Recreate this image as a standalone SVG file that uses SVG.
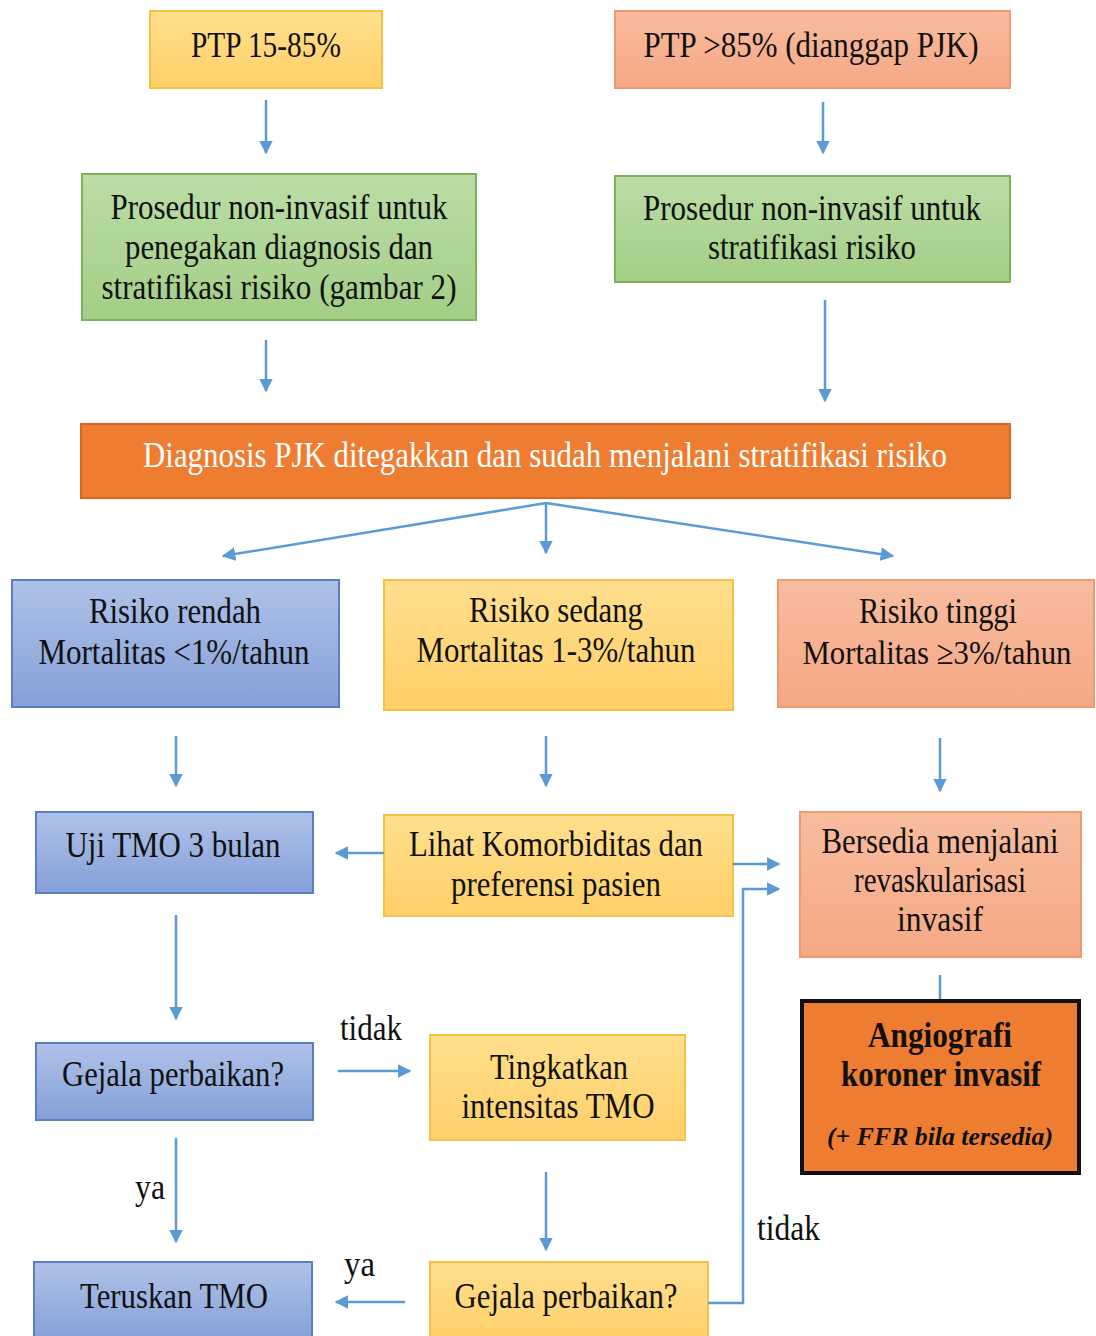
<svg xmlns="http://www.w3.org/2000/svg" width="1096" height="1336" viewBox="0 0 1096 1336">
<defs>
<linearGradient id="gBlue" x1="0" y1="0" x2="0" y2="1"><stop offset="0" stop-color="#AFC2E8"/><stop offset="1" stop-color="#859FD8"/></linearGradient>
<linearGradient id="gYel" x1="0" y1="0" x2="0" y2="1"><stop offset="0" stop-color="#FFDF8E"/><stop offset="1" stop-color="#FFD068"/></linearGradient>
<linearGradient id="gSal" x1="0" y1="0" x2="0" y2="1"><stop offset="0" stop-color="#F8BC9F"/><stop offset="1" stop-color="#F5A885"/></linearGradient>
<linearGradient id="gGrn" x1="0" y1="0" x2="0" y2="1"><stop offset="0" stop-color="#BCDDA6"/><stop offset="1" stop-color="#A2CE86"/></linearGradient>
<marker id="ah" viewBox="0 0 10 10" refX="9" refY="5" markerWidth="5.5" markerHeight="5.5" orient="auto" markerUnits="strokeWidth"><path d="M0,0 L10,5 L0,10 z" fill="#5B9BD5"/></marker>
</defs>
<style>
text{font-family:"Liberation Serif","Times New Roman",serif;font-size:35px;fill:#111111;text-anchor:middle}
.blue{fill:url(#gBlue);stroke:#5B7FC6;stroke-width:2}
.yel{fill:url(#gYel);stroke:#F5C043;stroke-width:2}
.sal{fill:url(#gSal);stroke:#EE9A70;stroke-width:2}
.grn{fill:url(#gGrn);stroke:#7DB257;stroke-width:2}
.org{fill:#EE7D32;stroke:#D8661E;stroke-width:2}
.conn{stroke:#5B9BD5;stroke-width:2.5;fill:none}
.arr{marker-end:url(#ah)}
.lbl{text-anchor:start}
</style>
<rect width="1096" height="1336" fill="#ffffff"/>

<g id="n-ptp1"><rect class="yel" x="150" y="11" width="232" height="77"/><text x="266" y="57" textLength="150" lengthAdjust="spacingAndGlyphs">PTP 15-85%</text></g>
<g id="n-ptp2"><rect class="sal" x="615" y="11" width="395" height="77"/><text x="811" y="57" textLength="335" lengthAdjust="spacingAndGlyphs">PTP &gt;85% (dianggap PJK)</text></g>
<g id="n-pros1"><rect class="grn" x="82" y="174" width="394" height="146"/>
<text x="279" y="219" textLength="337" lengthAdjust="spacingAndGlyphs">Prosedur non-invasif untuk</text>
<text x="279" y="259" textLength="308" lengthAdjust="spacingAndGlyphs">penegakan diagnosis dan</text>
<text x="279" y="299" textLength="355" lengthAdjust="spacingAndGlyphs">stratifikasi risiko (gambar 2)</text></g>
<g id="n-pros2"><rect class="grn" x="615" y="176" width="395" height="106"/>
<text x="812" y="220" textLength="338" lengthAdjust="spacingAndGlyphs">Prosedur non-invasif untuk</text>
<text x="812" y="259" textLength="208" lengthAdjust="spacingAndGlyphs">stratifikasi risiko</text></g>
<g id="n-diag"><rect class="org" x="81" y="424" width="929" height="74"/>
<text x="545" y="467" textLength="804" lengthAdjust="spacingAndGlyphs" style="fill:#ffffff">Diagnosis PJK ditegakkan dan sudah menjalani stratifikasi risiko</text></g>

<g id="n-rendah"><rect class="blue" x="12" y="580" width="327" height="127"/>
<text x="175" y="623" textLength="172" lengthAdjust="spacingAndGlyphs">Risiko rendah</text>
<text x="174" y="664" textLength="271" lengthAdjust="spacingAndGlyphs">Mortalitas &lt;1%/tahun</text></g>
<g id="n-sedang"><rect class="yel" x="384" y="580" width="349" height="130"/>
<text x="556" y="622" textLength="174" lengthAdjust="spacingAndGlyphs">Risiko sedang</text>
<text x="556" y="662" textLength="279" lengthAdjust="spacingAndGlyphs">Mortalitas 1-3%/tahun</text></g>
<g id="n-tinggi"><rect class="sal" x="778" y="580" width="316" height="127"/>
<text x="938" y="623" textLength="158" lengthAdjust="spacingAndGlyphs">Risiko tinggi</text>
<text x="937" y="664" textLength="269" lengthAdjust="spacingAndGlyphs" style="font-size:34px">Mortalitas ≥3%/tahun</text></g>

<g id="n-uji"><rect class="blue" x="36" y="812" width="277" height="81"/>
<text x="173" y="857" textLength="215" lengthAdjust="spacingAndGlyphs">Uji TMO 3 bulan</text></g>
<g id="n-lihat"><rect class="yel" x="384" y="815" width="349" height="101"/>
<text x="556" y="856" textLength="294" lengthAdjust="spacingAndGlyphs">Lihat Komorbiditas dan</text>
<text x="556" y="896" textLength="210" lengthAdjust="spacingAndGlyphs">preferensi pasien</text></g>
<g id="n-bersedia"><rect class="sal" x="800" y="812" width="281" height="145"/>
<text x="940" y="853" textLength="237" lengthAdjust="spacingAndGlyphs">Bersedia menjalani</text>
<text x="940" y="892" textLength="172" lengthAdjust="spacingAndGlyphs">revaskularisasi</text>
<text x="940" y="931" textLength="86" lengthAdjust="spacingAndGlyphs">invasif</text></g>
<g id="n-angio"><rect x="802" y="1001" width="277" height="172" fill="#EE7D32" stroke="#111111" stroke-width="4"/>
<text x="940" y="1047" textLength="144" lengthAdjust="spacingAndGlyphs" font-weight="bold">Angiografi</text>
<text x="941" y="1086" textLength="200" lengthAdjust="spacingAndGlyphs" font-weight="bold">koroner invasif</text>
<text x="940" y="1145" textLength="226" lengthAdjust="spacingAndGlyphs" font-weight="bold" font-style="italic" style="font-size:25px">(+ FFR bila tersedia)</text></g>

<g id="n-gejala1"><rect class="blue" x="36" y="1043" width="277" height="77"/>
<text x="173" y="1086" textLength="222" lengthAdjust="spacingAndGlyphs">Gejala perbaikan?</text></g>
<g id="n-tingkat"><rect class="yel" x="430" y="1035" width="255" height="105"/>
<text x="559" y="1079" textLength="138" lengthAdjust="spacingAndGlyphs">Tingkatkan</text>
<text x="558" y="1118" textLength="193" lengthAdjust="spacingAndGlyphs">intensitas TMO</text></g>
<g id="n-teruskan"><rect class="blue" x="34" y="1262" width="278" height="80"/>
<text x="174" y="1308" textLength="188" lengthAdjust="spacingAndGlyphs">Teruskan TMO</text></g>
<g id="n-gejala2"><rect class="yel" x="430" y="1262" width="278" height="80"/>
<text x="566" y="1308" textLength="223" lengthAdjust="spacingAndGlyphs">Gejala perbaikan?</text></g>

<g id="connectors">
<line class="conn arr" x1="266" y1="100" x2="266" y2="153"/>
<line class="conn arr" x1="823" y1="102" x2="823" y2="153"/>
<line class="conn arr" x1="266" y1="340" x2="266" y2="391"/>
<line class="conn arr" x1="825" y1="300" x2="825" y2="401"/>
<line class="conn arr" x1="546" y1="503" x2="223" y2="556"/>
<line class="conn arr" x1="546" y1="503" x2="546" y2="553"/>
<line class="conn arr" x1="546" y1="503" x2="893" y2="556"/>
<line class="conn arr" x1="176" y1="736" x2="176" y2="786"/>
<line class="conn arr" x1="546" y1="736" x2="546" y2="786"/>
<line class="conn arr" x1="940" y1="738" x2="940" y2="791"/>
<line class="conn arr" x1="384" y1="853" x2="336" y2="853"/>
<line class="conn arr" x1="733" y1="864" x2="779" y2="864"/>
<polyline class="conn arr" points="708,1303 743,1303 743,889 779,889"/>
<line class="conn" x1="940" y1="975" x2="940" y2="999"/>
<line class="conn arr" x1="176" y1="915" x2="176" y2="1019"/>
<line class="conn arr" x1="338" y1="1071" x2="410" y2="1071"/>
<line class="conn arr" x1="546" y1="1172" x2="546" y2="1250"/>
<line class="conn arr" x1="176" y1="1138" x2="176" y2="1242"/>
<line class="conn arr" x1="405" y1="1302" x2="336" y2="1302"/>
</g>
<g id="labels">
<text class="lbl" x="340" y="1040" textLength="62" lengthAdjust="spacingAndGlyphs">tidak</text>
<text class="lbl" x="135" y="1199" textLength="30" lengthAdjust="spacingAndGlyphs">ya</text>
<text class="lbl" x="344" y="1276" textLength="31" lengthAdjust="spacingAndGlyphs">ya</text>
<text class="lbl" x="757" y="1240" textLength="63" lengthAdjust="spacingAndGlyphs">tidak</text>
</g>
</svg>
